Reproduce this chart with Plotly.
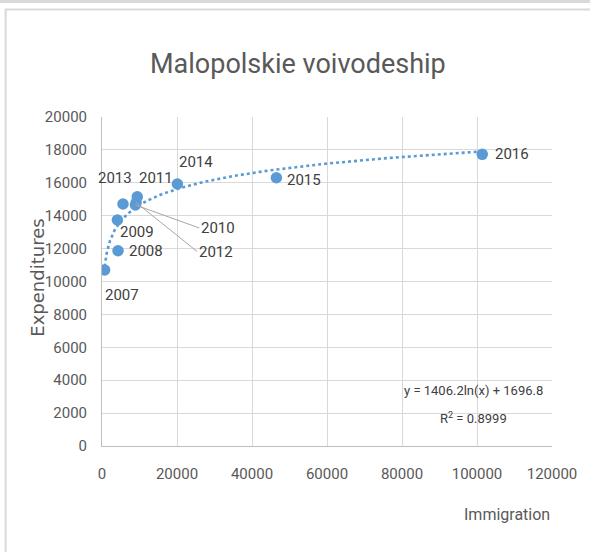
import numpy as np
import plotly.graph_objects as go

years = ["2007", "2008", "2009", "2010", "2011", "2012", "2013", "2014", "2015", "2016"]
immigration = [700, 4270, 4100, 8900, 9400, 9100, 5600, 20100, 46500, 101400]
expenditures = [10700, 11870, 13740, 14650, 15150, 14800, 14710, 15930, 16310, 17730]

trend_a = 1406.2
trend_b = 1696.8
r2 = 0.8999

title = "Malopolskie voivodeship"
x_title = "Immigration"
y_title = "Expenditures"
x_ticks = [0, 20000, 40000, 60000, 80000, 100000, 120000]
y_ticks = list(range(0, 20001, 2000))

BLUE = "#5B9BD5"
GRAY = "#595959"
FONT = "Roboto, Liberation Sans, sans-serif"

W, H = 590, 552
L, R, T, B = 102.3, 590 - 552, 117, 552 - 446
PW, PH = W - L - R, H - T - B

def px(xp):
    return (xp - L) / PW

def py(yp):
    return (H - B - yp) / PH

xt = np.geomspace(min(immigration), max(immigration), 300)
yt = trend_a * np.log(xt) + trend_b

fig = go.Figure()
fig.add_trace(go.Scatter(x=xt, y=yt, mode="lines",
                         line=dict(color=BLUE, width=2.6, dash="dot"),
                         hoverinfo="skip", showlegend=False))
fig.add_trace(go.Scatter(x=immigration, y=expenditures, mode="markers",
                         marker=dict(color=BLUE, size=11.5),
                         showlegend=False))

offsets = {
    "2007": (17, 25), "2008": (28, 0), "2009": (20, 12), "2011": (19, -19),
    "2013": (-8, -26), "2014": (19, -22), "2015": (28, 2), "2016": (30, 0),
}
for yr, xv, yv in zip(years, immigration, expenditures):
    if yr in offsets:
        dx, dy = offsets[yr]
        fig.add_annotation(x=xv, y=yv, xref="x", yref="y", text=yr, showarrow=False,
                           xshift=dx, yshift=-dy,
                           font=dict(family=FONT, size=15, color="#404040"))

leaders = {"2010": (64, 23), "2012": (61, 49)}
for yr, xv, yv in zip(years, immigration, expenditures):
    if yr in leaders:
        ax, ay = leaders[yr]
        fig.add_annotation(x=xv, y=yv, xref="x", yref="y", text=yr, showarrow=True,
                           ax=ax, ay=ay, arrowhead=0, arrowwidth=1, arrowcolor="#A6A6A6",
                           xanchor="left", standoff=0,
                           font=dict(family=FONT, size=15, color="#404040"))

fig.add_annotation(xref="paper", yref="paper", x=px(474), y=py(390.7),
                   text=f"y = {trend_a}ln(x) + {trend_b}", showarrow=False,
                   xanchor="center", yanchor="middle",
                   font=dict(family=FONT, size=13, color="#404040"))
fig.add_annotation(xref="paper", yref="paper", x=px(474), y=py(418),
                   text=f"R<sup>2</sup> = {r2}", showarrow=False,
                   xanchor="center", yanchor="middle",
                   font=dict(family=FONT, size=13, color="#404040"))

fig.add_annotation(xref="paper", yref="paper", x=1, y=py(514), xanchor="right",
                   yanchor="middle", text=x_title, showarrow=False,
                   font=dict(family=FONT, size=16, color=GRAY))
fig.add_annotation(xref="paper", yref="paper", x=px(37), y=py(278), textangle=-90,
                   xanchor="center", yanchor="middle",
                   text=y_title, showarrow=False,
                   font=dict(family="DejaVu Sans", size=18, color=GRAY))
fig.add_annotation(xref="paper", yref="paper", x=px(298), y=py(64),
                   xanchor="center", yanchor="middle",
                   text=title, showarrow=False,
                   font=dict(family=FONT, size=27, color=GRAY))

fig.add_shape(type="rect", xref="paper", yref="paper",
              x0=px(6), y0=py(600), x1=px(640), y1=py(9.5),
              line=dict(color="#D9D9D9", width=2), layer="below")
fig.add_shape(type="rect", xref="paper", yref="paper",
              x0=px(-20), y0=py(3), x1=px(640), y1=py(-20),
              line=dict(color="#D9D9D9", width=0), fillcolor="#D9D9D9", layer="below")

fig.update_xaxes(range=[0, 120000], tickvals=x_ticks, ticktext=[str(v) for v in x_ticks],
                 showgrid=True, gridcolor="#D9D9D9", gridwidth=1,
                 showline=True, linecolor="#BFBFBF", linewidth=1,
                 ticks="outside", ticklen=14, tickcolor="rgba(0,0,0,0)",
                 tickfont=dict(family=FONT, size=15, color=GRAY), zeroline=False)
fig.update_yaxes(range=[0, 20000], tickvals=y_ticks, ticktext=[str(v) for v in y_ticks],
                 showgrid=True, gridcolor="#D9D9D9", gridwidth=1,
                 showline=True, linecolor="#BFBFBF", linewidth=1,
                 ticks="outside", ticklen=11, tickcolor="rgba(0,0,0,0)",
                 tickfont=dict(family=FONT, size=15, color=GRAY), zeroline=False)

fig.update_layout(width=W, height=H, margin=dict(l=L, r=R, t=T, b=B),
                  paper_bgcolor="white", plot_bgcolor="white", showlegend=False)

fig.write_html("out.html", config={"displayModeBar": False},
               post_script="document.body.style.margin='0';document.body.style.overflow='hidden';")
